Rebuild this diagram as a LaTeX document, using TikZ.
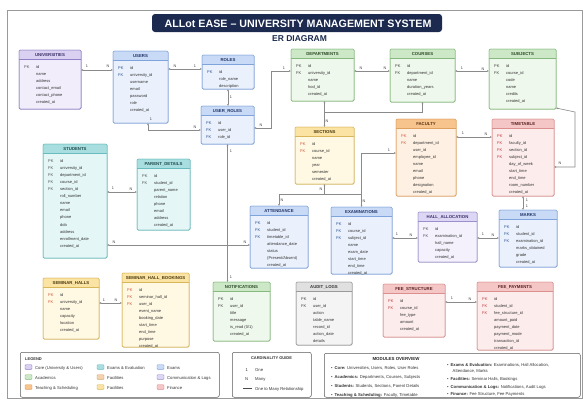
\documentclass[tikz,border=0pt]{standalone}
\usepackage{fontspec}
\setmainfont{Liberation Sans}
\usetikzlibrary{arrows.meta,shadows,calc}
% colour schemes: H header, L body, B border, K key text, T title text
\definecolor{puH}{HTML}{D9D0F2}\definecolor{puL}{HTML}{F1EDFB}\definecolor{puB}{HTML}{8F7FC4}\definecolor{puK}{HTML}{555555}\definecolor{puT}{HTML}{3A2F66}
\definecolor{buH}{HTML}{C9DAF6}\definecolor{buL}{HTML}{EAF1FC}\definecolor{buB}{HTML}{7FA3DB}\definecolor{buK}{HTML}{2F5597}\definecolor{buT}{HTML}{1F3366}
\definecolor{grH}{HTML}{CDE8C6}\definecolor{grL}{HTML}{EFF8EC}\definecolor{grB}{HTML}{86B97D}\definecolor{grK}{HTML}{444444}\definecolor{grT}{HTML}{2E4A2A}
\definecolor{yeH}{HTML}{FBE3A4}\definecolor{yeL}{HTML}{FFF8E3}\definecolor{yeB}{HTML}{D8B75A}\definecolor{yeK}{HTML}{D0573A}\definecolor{yeT}{HTML}{4A3A10}
\definecolor{orH}{HTML}{F8C48E}\definecolor{orL}{HTML}{FEF1E3}\definecolor{orB}{HTML}{E0A060}\definecolor{orK}{HTML}{D0573A}\definecolor{orT}{HTML}{5A3310}
\definecolor{piH}{HTML}{F5C6C6}\definecolor{piL}{HTML}{FDECEC}\definecolor{piB}{HTML}{DB8F8F}\definecolor{piK}{HTML}{C43C3C}\definecolor{piT}{HTML}{5A1F1F}
\definecolor{teH}{HTML}{A8DEDF}\definecolor{teL}{HTML}{E4F6F6}\definecolor{teB}{HTML}{68BCBE}\definecolor{teK}{HTML}{555555}\definecolor{teT}{HTML}{1F4A4B}
\definecolor{laH}{HTML}{DDD6F4}\definecolor{laL}{HTML}{F4F1FC}\definecolor{laB}{HTML}{9C90CC}\definecolor{laK}{HTML}{555555}\definecolor{laT}{HTML}{3A2F66}
\definecolor{gyH}{HTML}{E0E0E0}\definecolor{gyL}{HTML}{F4F4F4}\definecolor{gyB}{HTML}{9A9A9A}\definecolor{gyK}{HTML}{444444}\definecolor{gyT}{HTML}{333333}
\definecolor{tanH}{HTML}{F3D3AE}\definecolor{tanB}{HTML}{D6A670}
\definecolor{navy}{HTML}{1B2A4E}
\definecolor{rowtext}{HTML}{333333}
\definecolor{connc}{HTML}{8A8A8A}
\definecolor{framec}{HTML}{9A9A9A}
\newcommand\erRow{\fontsize{4}{4.5}\selectfont}
\newcommand\erHead{\fontsize{4.3}{5}\selectfont\bfseries}
\newcommand\erCard{\fontsize{3.8}{4}\selectfont}
\newcommand\erSmall{\fontsize{4.2}{5}\selectfont}
\newcommand\ertab[8]{%
  \node[tbl, draw=#2B, fill=#2L, minimum width=#5pt, minimum height=#6pt] (#1) at (#3,#4) {};
  \fill[#2H, rounded corners=1.2pt] (#1.north west) rectangle ([yshift=-9.5pt]#1.north east);
  \draw[#2B, line width=0.4pt] ([yshift=-9.5pt]#1.north west) -- ([yshift=-9.5pt]#1.north east);
  \draw[#2B, line width=0.5pt, rounded corners=1.2pt] (#1.north west) rectangle (#1.south east);
  \node[font=\erHead, text=#2T, inner sep=0] at ([yshift=-4.9pt]#1.north) {#7};
  \foreach \k/\f [count=\i from 0] in {#8} {
    \node[rowtxt, text=#2K] at ([xshift=5pt, yshift=-15.5pt-7.1pt*\i]#1.north west) {\k};
    \node[rowtxt] at ([xshift=17pt, yshift=-15.5pt-7.1pt*\i]#1.north west) {\f};
  }%
}
\begin{document}
\begin{tikzpicture}[x=1pt,y=-1pt,
  tbl/.style={rectangle, anchor=north west, rounded corners=1.2pt, inner sep=0pt, outer sep=0pt, line width=0.5pt,
    drop shadow={opacity=0.18, shadow xshift=0.7pt, shadow yshift=-0.7pt}},
  rowtxt/.style={anchor=mid west, font=\erRow, text=rowtext, inner sep=0pt},
  conn/.style={draw=connc, line width=0.6pt, {Latex[length=2pt,width=1.8pt]}-{Latex[length=2pt,width=1.8pt]}},
  connA/.style={draw=connc, line width=0.6pt, {Latex[length=2pt,width=1.8pt]}-},
  connP/.style={draw=connc, line width=0.6pt},
  card/.style={font=\erCard, text=black!75, inner sep=0pt},
  box/.style={rectangle, anchor=north west, draw=black!65, fill=white, rounded corners=2pt, line width=0.5pt, inner sep=0pt},
  swatch/.style={rectangle, rounded corners=0.8pt, minimum width=7pt, minimum height=4.6pt, inner sep=0pt, line width=0.4pt},
  legtxt/.style={anchor=mid west, font=\erSmall, text=black!80, inner sep=0pt}
]
\useasboundingbox (0,0) rectangle (588,399);
\fill[white] (0,0) rectangle (588,399);
\draw[framec, line width=0.6pt] (7,10) rectangle (582,398);

% title
\node[fill=navy, rounded corners=3pt, minimum width=290pt, minimum height=18pt, inner sep=0pt] (titlebox) at (297,23) {};
\node[text=white, font=\fontsize{10.7}{12}\selectfont\bfseries, inner sep=0pt] (title) at (298,23.5) {ALLot EASE – UNIVERSITY MANAGEMENT SYSTEM};
\node[text=navy, font=\fontsize{8.5}{10}\selectfont\bfseries, inner sep=0pt] (subtitle) at (299.5,38.5) {ER DIAGRAM};

% tables
\ertab{universities}{pu}{19}{50}{62}{59}{UNIVERSITIES}{PK/id, /name, /address, /contact\_email, /contact\_phone, /created\_at}
\ertab{users}{bu}{113}{51}{55}{72}{USERS}{PK/id, FK/university\_id, /username, /email, /password, /role, /created\_at}
\ertab{roles}{bu}{202}{55}{52}{34}{ROLES}{PK/id, /role\_name, /description}
\ertab{user_roles}{bu}{201}{106}{53}{38}{USER\_ROLES}{PK/id, FK/user\_id, FK/role\_id}
\ertab{departments}{gr}{291}{49}{63}{52}{DEPARTMENTS}{PK/id, FK/university\_id, /name, /hod\_id, /created\_at}
\ertab{courses}{gr}{390}{49}{65}{53}{COURSES}{PK/id, FK/department\_id, /name, /duration\_years, /created\_at}
\ertab{subjects}{gr}{489}{49}{67}{60}{SUBJECTS}{PK/id, FK/course\_id, /code, /name, /credits, /created\_at}
\ertab{sections}{ye}{295}{127}{59}{57}{SECTIONS}{PK/id, FK/course\_id, /name, /year, /semester, /created\_at}
\ertab{faculty}{or}{396}{119}{60}{77}{FACULTY}{PK/id, FK/department\_id, /user\_id, /employee\_id, /name, /email, /phone, /designation, /created\_at}
\ertab{timetable}{pi}{492}{119}{62}{77}{TIMETABLE}{PK/id, FK/faculty\_id, FK/section\_id, FK/subject\_id, /day\_of\_week, /start\_time, /end\_time, /room\_number, /created\_at}
\ertab{students}{te}{43}{144}{64}{114}{STUDENTS}{PK/id, FK/university\_id, FK/department\_id, FK/course\_id, FK/section\_id, /roll\_number, /name, /email, /phone, /dob, /address, /enrollment\_date, /created\_at}
\ertab{parent_details}{te}{137}{159}{53}{71}{PARENT\_DETAILS}{PK/id, FK/student\_id, /parent\_name, /relation, /phone, /email, /address, /created\_at}
\ertab{attendance}{bu}{250}{206}{58}{62}{ATTENDANCE}{PK/id, FK/student\_id, FK/timetable\_id, /attendance\_date, /status, /(Present\slash Absent), /created\_at}
\ertab{examinations}{bu}{331}{207}{61}{67}{EXAMINATIONS}{PK/id, FK/course\_id, FK/subject\_id, /name, /exam\_date, /start\_time, /end\_time, /created\_at}
\ertab{hall_allocation}{la}{418}{212}{59}{50}{HALL\_ALLOCATION}{PK/id, FK/examination\_id, /hall\_name, /capacity, /created\_at}
\ertab{marks}{bu}{499}{210}{58}{57}{MARKS}{PK/id, FK/student\_id, FK/examination\_id, /marks\_obtained, /grade, /created\_at}
\ertab{seminar_halls}{ye}{43}{278}{56}{61}{SEMINAR\_HALLS}{PK/id, FK/university\_id, /name, /capacity, /location, /created\_at}
\ertab{bookings}{ye}{122}{273}{67}{74}{SEMINAR\_HALL\_BOOKINGS}{PK/id, FK/seminar\_hall\_id, FK/user\_id, /event\_name, /booking\_date, /start\_time, /end\_time, /purpose, /created\_at}
\ertab{notifications}{gr}{213}{282}{57}{59}{NOTIFICATIONS}{PK/id, FK/user\_id, /title, /message, /is\_read (0\slash 1), /created\_at}
\ertab{audit_logs}{gy}{296}{282}{56}{63}{AUDIT\_LOGS}{PK/id, FK/user\_id, /action, /table\_name, /record\_id, /action\_date, /details}
\ertab{fee_structure}{pi}{383}{284}{62}{53}{FEE\_STRUCTURE}{PK/id, FK/course\_id, /fee\_type, /amount, /created\_at}
\ertab{fee_payments}{pi}{477}{282}{76}{68}{FEE\_PAYMENTS}{PK/id, FK/student\_id, FK/fee\_structure\_id, /amount\_paid, /payment\_date, /payment\_mode, /transaction\_id, /created\_at}

% connectors
\draw[conn] ([yshift=-20pt]universities.north east) -- ([yshift=-19pt]users.north west);
\draw[conn] ([yshift=-18pt]users.north east) -- ([yshift=-14pt]roles.north west);
\draw[conn] ([xshift=35pt]users.south west) |- ([yshift=-24pt]user_roles.north west);
\draw[conn] (roles.south) -- (roles.south |- user_roles.north);
\draw[conn] ([yshift=-22pt]user_roles.north east) -- ++(17pt,0) |- ([yshift=-22pt]departments.north west);
\draw[conn] ([yshift=-22pt]departments.north east) -- ([yshift=-22pt]courses.north west);
\draw[conn] ([yshift=-22pt]courses.north east) -- ([yshift=-22pt]subjects.north west);
\draw[conn] (sections.north) -- (sections.north |- departments.south);
\coordinate (jsec) at ($(sections.north)+(0,15pt)$);
\draw[connA] (courses.south) |- (jsec);
\coordinate (jatt) at ($(sections.south)+(0,-10pt)$);
\draw[connA] (sections.south) -- (jatt);
\draw[connA] (attendance.north) |- (examinations.north |- jatt);
\draw[conn] ([yshift=-34pt]faculty.north west) -| (examinations.north);
\draw[conn] ([yshift=-18pt]faculty.north east) -- ([yshift=-18pt]timetable.north west);
\coordinate (ksub) at (575,112);
\draw[conn] ([yshift=1pt]subjects.south east) -- (ksub) |- ([yshift=-48pt]timetable.north east);
\draw[conn] (timetable.south) -- (timetable.south |- marks.north);
\draw[conn] ([yshift=-26pt]hall_allocation.north east) -- ([yshift=-28pt]marks.north west);
\draw[conn] ([yshift=-31pt]examinations.north east) -- ([yshift=-26pt]hall_allocation.north west);
\draw[conn] ([yshift=-48pt]students.north east) -- ([yshift=-33pt]parent_details.north west);
\draw[conn] ([yshift=-101pt]students.north east) -- ([yshift=-39pt]attendance.north west);
\draw[conn] (user_roles.south) -- (user_roles.south |- notifications.north);
\draw[conn] ([yshift=-25pt]seminar_halls.north east) -- ([yshift=-30pt]bookings.north west);
\draw[conn] ([yshift=-18pt]fee_structure.north east) -- ([yshift=-20pt]fee_payments.north west);

% cardinality labels
\foreach \p/\t in {{87,66.5}/1, {108,66.5}/N, {175,66}/N, {195,66}/1, {151,119}/1, {195,127}/N, {231,97}/1,
  {261,125}/N, {284,68}/1, {361,68}/N, {385,68}/N, {462,68}/1, {483,69}/N, {327,121}/N, {321,189}/N,
  {282,200}/N, {364,201}/N, {389,150}/1, {463,133}/1, {486,134}/N, {560,163}/N, {527,200}/1, {527,206.5}/1,
  {483,234}/1, {493,235}/N, {397,234}/1, {411,235}/N, {113,188}/1, {131,189}/N, {114,242}/N, {245,242}/N,
  {231,151}/1, {231,277}/1, {104,300}/1, {116,300}/N, {452,298}/1, {470,299}/N}
  \node[card] at (\p) {\t};

% legend
\node[box, minimum width=199pt, minimum height=45pt] (legend) at (20,352) {};
\node[anchor=mid west, font=\fontsize{4}{5}\selectfont\bfseries, text=black!80, inner sep=0pt] (legendt) at (25,358) {LEGEND};
\foreach \x/\y/\c/\t [count=\n] in {
  28.5/367/pu/{Core (University \& Users)}, 28.5/377/gr/Academics, 28.5/387/or/{Teaching \& Scheduling},
  100.5/367/te/{Exams \& Evaluation}, 100.5/377/tan/Facilities, 100.5/387/ye/Facilities,
  160.5/367/bu/Exams, 160.5/377/la/{Communication \& Logs}, 160.5/387/pi/Finance} {
  \node[swatch, fill=\c H, draw=\c B] (sw\n) at (\x,\y) {};
  \node[legtxt] at ([xshift=6.5pt]sw\n.center) {\t};
}

% cardinality guide
\node[box, minimum width=79pt, minimum height=45pt] (cardbox) at (232,352) {};
\node[font=\fontsize{4}{5}\selectfont\bfseries, text=black!80, inner sep=0pt] (cardt) at (271.5,358.5) {CARDINALITY GUIDE};
\node[legtxt] (c1) at (245.5,369) {1};
\node[legtxt] at (255,369) {One};
\node[legtxt] (cn) at (245,378) {N};
\node[legtxt] at (255,378) {Many};
\coordinate (cl1) at (243,388);
\coordinate (cl2) at (252,388);
\draw[black!70, line width=0.5pt] (cl1) -- (cl2);
\node[legtxt] at (255,388) {One to Many Relationship};

% modules overview
\node[box, minimum width=256pt, minimum height=44pt] (modbox) at (324,353) {};
\node[font=\fontsize{4.4}{5}\selectfont\bfseries, text=black!85, inner sep=0pt] (modt) at (396,358.5) {MODULES OVERVIEW};
\foreach \y/\t in {367/{\textbf{Core:} Universities, Users, Roles, User Roles},
  376/{\textbf{Academics:} Departments, Courses, Subjects},
  385/{\textbf{Students:} Students, Sections, Parent Details},
  394/{\textbf{Teaching \& Scheduling:} Faculty, Timetable}}
  \node[legtxt] at (331,\y) {•\hspace{2pt}\t};
\foreach \y/\t in {364/{\textbf{Exams \& Evaluation:} Examinations, Hall Allocation,},
  378/{\textbf{Facilities:} Seminar Halls, Bookings},
  385.5/{\textbf{Communication \& Logs:} Notifications, Audit Logs},
  393/{\textbf{Finance:} Fee Structure, Fee Payments}}
  \node[legtxt] at (447,\y) {•\hspace{2pt}\t};
\node[legtxt] at (452.5,370) {Attendance, Marks};
\end{tikzpicture}
\end{document}
